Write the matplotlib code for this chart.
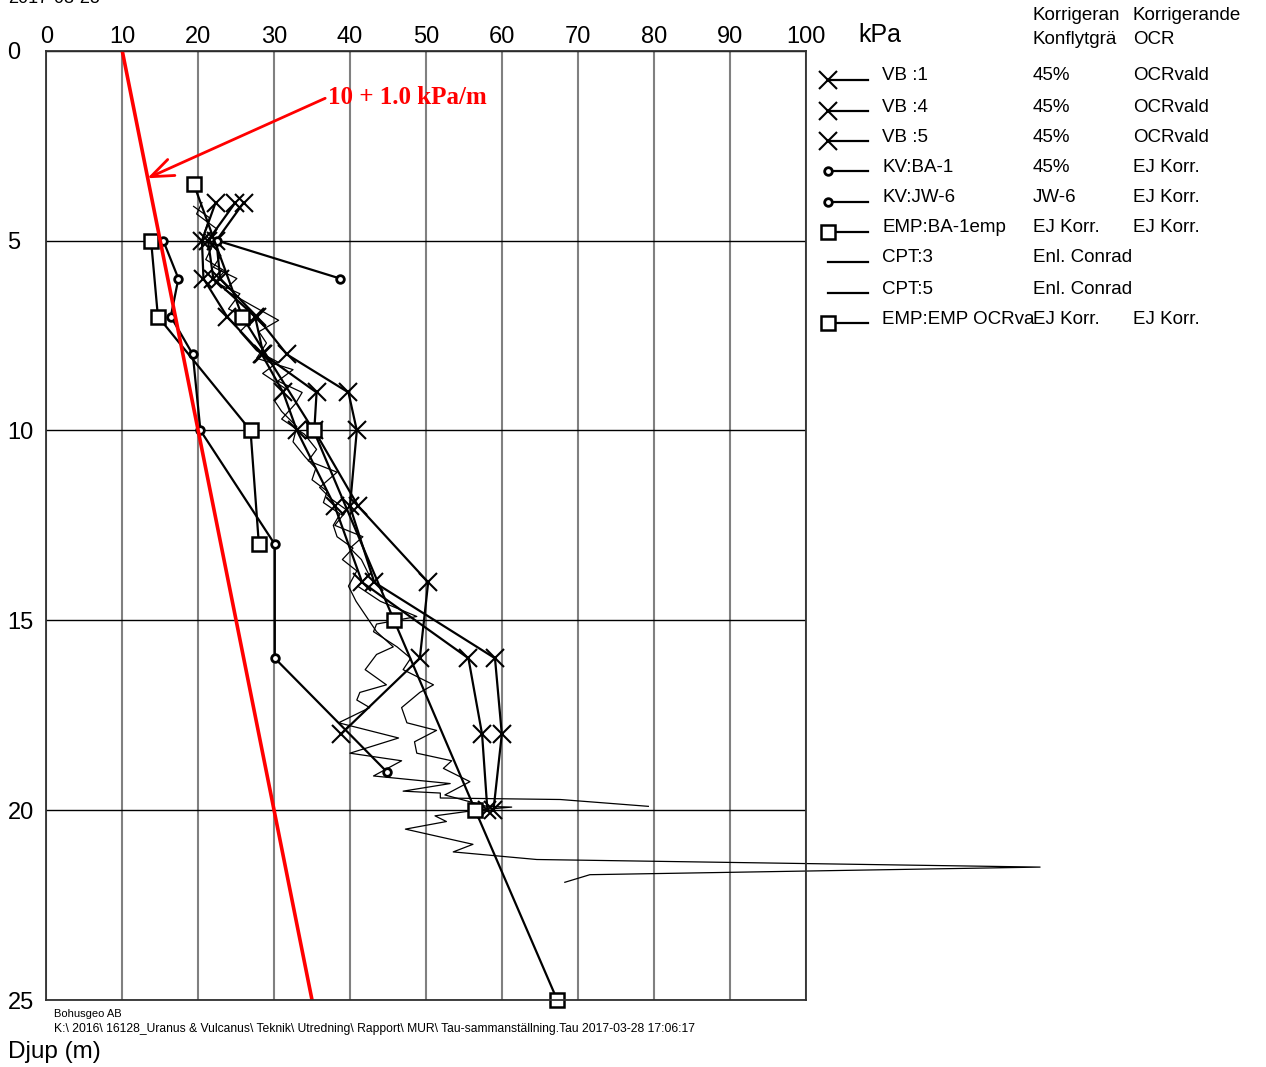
import matplotlib.pyplot as plt

plt.rcParams['font.family'] = ['Liberation Sans', 'DejaVu Sans']

# Vingborr (kPa vs djup m)
vb_depth = [4, 5, 6, 7, 8, 9, 10, 12, 14, 16, 18, 20]
vb1 = [26.0, 22.4, 22.9, 27.7, 31.7, 39.8, 40.9, 40.0, 43.2, 59.1, 60.0, 58.9]
vb4_depth = [4, 5, 6, 7, 8, 9, 10, 12, 14, 16, 18]
vb4 = [24.9, 21.3, 22.0, 27.5, 28.6, 35.6, 35.3, 41.1, 50.3, 49.2, 38.8]
vb5 = [22.3, 20.5, 20.7, 23.8, 28.4, 31.2, 33.0, 38.0, 41.6, 55.6, 57.4, 58.1]

# Kolvprov
kv_ba1_depth = [5, 6, 7, 8, 10, 13, 16, 19]
kv_ba1 = [15.4, 17.4, 16.4, 19.3, 20.3, 30.1, 30.1, 44.9]
kv_jw6_depth = [5, 6]
kv_jw6 = [22.5, 38.7]

# Empiriska
emp_ba1_depth = [5, 7, 10, 13]
emp_ba1 = [13.8, 14.7, 26.9, 28.0]
emp_ocr_depth = [3.5, 7, 10, 15, 20, 25]
emp_ocr = [19.4, 25.8, 35.2, 45.8, 56.5, 67.3]

# CPT
cpt3_depth = [4.1, 4.4, 4.8, 5.1, 5.5, 5.8, 6.1, 6.4, 6.8, 7.1, 7.4, 7.9, 8.2, 8.5, 8.9, 9.2, 9.5,
              9.9, 10.3, 10.7, 11.0, 11.3, 11.6, 11.9, 12.2, 12.5, 12.8, 13.1, 13.4, 13.7, 14.1,
              14.5, 15.3, 15.7, 15.9, 16.3, 16.7, 16.9, 17.1, 17.3, 17.7, 18.1, 18.5, 18.7, 19.1,
              19.3, 19.5, 19.55, 19.68, 19.72, 19.9]
cpt3 = [19.4, 21.5, 20.8, 22.0, 21.0, 23.5, 22.2, 25.5, 24.0, 27.0, 25.5, 27.7, 30.5, 28.5, 31.5,
        30.0, 31.0, 33.0, 32.5, 34.1, 35.5, 35.0, 37.0, 36.5, 38.7, 37.8, 38.3, 40.4, 39.0, 40.9,
        39.8, 40.8, 43.5, 45.7, 43.5, 42.0, 44.8, 41.3, 40.9, 42.6, 38.5, 46.4, 40.0, 46.8, 43.1,
        53.2, 47.0, 51.9, 51.9, 67.7, 79.3]
cpt5_depth = [4.0, 4.3, 4.7, 5.0, 5.4, 5.7, 6.0, 6.3, 6.7, 7.1, 7.4, 7.7, 8.1, 8.4, 8.7, 9.0, 9.3,
              9.7, 10.1, 10.5, 10.8, 11.1, 11.5, 11.8, 12.1, 12.5, 12.8, 13.1, 13.4, 13.8, 14.1,
              14.5, 14.9, 15.1, 15.3, 15.7, 16.0, 16.3, 16.7, 16.9, 17.3, 17.7, 17.9, 18.2, 18.5,
              18.7, 18.9, 19.25, 19.6, 19.9, 19.92, 20.0, 20.15, 20.3, 20.5, 20.9, 21.1, 21.3,
              21.5, 21.7, 21.9]
cpt5 = [20.5, 19.8, 22.5, 21.5, 23.0, 22.0, 25.1, 23.5, 27.0, 30.6, 28.0, 29.0, 27.7, 32.5, 30.5,
        33.7, 32.8, 31.0, 34.0, 35.6, 34.5, 38.3, 36.0, 37.5, 39.6, 38.0, 41.7, 40.0, 41.5, 42.5,
        41.0, 44.0, 48.8, 43.5, 43.1, 46.2, 48.0, 47.0, 51.0, 49.2, 46.8, 47.5, 51.4, 48.5, 48.8,
        53.4, 52.3, 55.8, 52.5, 58.0, 61.3, 56.7, 51.2, 52.7, 47.3, 56.2, 53.6, 64.6, 130.9, 71.6,
        68.3]

# trend line 10 + 1.0 kPa/m
trend_depth = [0, 25]
trend = [10 + 1.0 * d for d in trend_depth]

legend_names = ['VB :1', 'VB :4', 'VB :5', 'KV:BA-1', 'KV:JW-6', 'EMP:BA-1emp', 'CPT:3', 'CPT:5',
                'EMP:EMP OCRva']
legend_col2 = ['45%', '45%', '45%', '45%', 'JW-6', 'EJ Korr.', 'Enl. Conrad', 'Enl. Conrad', 'EJ Korr.']
legend_col3 = ['OCRvald', 'OCRvald', 'OCRvald', 'EJ Korr.', 'EJ Korr.', 'EJ Korr.', '', '', 'EJ Korr.']

W, H = 1266, 1067
fig = plt.figure(figsize=(W / 100, H / 100), dpi=100)
ax = fig.add_axes([46.3 / W, 1 - 1000 / H, (805.5 - 46.3) / W, (1000 - 50.7) / H])
ax.set_xlim(0, 100)
ax.set_ylim(25, 0)
ax.xaxis.tick_top()
ax.set_xticks(range(0, 101, 10))
ax.set_yticks(range(0, 26, 5))
ax.tick_params(axis='x', length=0, labelsize=17, pad=2)
ax.tick_params(axis='y', length=0, labelsize=17, pad=28)
for t in ax.get_yticklabels():
    t.set_horizontalalignment('left')
ax.xaxis.grid(True, color='#808080', lw=1.5)
ax.yaxis.grid(True, color='black', lw=1.0)
ax.set_axisbelow(True)
for s in ax.spines.values():
    s.set_color('#303030')
    s.set_linewidth(1.3)

lk = dict(color='black', lw=1.6)
xm = dict(marker='x', ms=13, mew=1.5, mec='black')
ax.plot(vb1, vb_depth, **lk, **xm)
ax.plot(vb4, vb4_depth, **lk, **xm)
ax.plot(vb5, vb_depth, **lk, **xm)
ax.plot(cpt3, cpt3_depth, color='black', lw=0.9, clip_on=False)
ax.plot(cpt5, cpt5_depth, color='black', lw=0.9, clip_on=False)
om = dict(marker='o', ms=5.5, mfc='white', mec='black', mew=2)
ax.plot(kv_ba1, kv_ba1_depth, **lk, **om)
ax.plot(kv_jw6, kv_jw6_depth, **lk, **om)
sm = dict(marker='s', ms=10, mfc='white', mec='black', mew=1.8)
ax.plot(emp_ba1, emp_ba1_depth, **lk, **sm)
ax.plot(emp_ocr, emp_ocr_depth, **lk, **sm, clip_on=False)

ax.plot(trend, trend_depth, color='red', lw=2.6)
ax.annotate('10 + 1.0 kPa/m', xy=(13.3, 3.36), xytext=(37.1, 1.22),
            color='red', fontsize=18, fontweight='bold', family='Liberation Serif',
            ha='left', va='center',
            arrowprops=dict(arrowstyle='->,head_length=0.9,head_width=0.35', color='red', lw=2,
                            shrinkA=0, shrinkB=0, relpos=(0, 0.5)))

# overlay in pixel coordinates for legend and texts
ov = fig.add_axes([0, 0, 1, 1], facecolor='none')
ov.set_xlim(0, W)
ov.set_ylim(H, 0)
ov.axis('off')

ov.text(858, 35, 'kPa', fontsize=18, va='center', ha='left')
ov.text(1033, 16, 'Korrigeran', fontsize=13.5, va='center')
ov.text(1033, 39, 'Konflytgrä', fontsize=13.5, va='center')
ov.text(1133, 16, 'Korrigerande', fontsize=13.5, va='center')
ov.text(1133, 39, 'OCR', fontsize=13.5, va='center')

rows_y = [76, 107, 137, 167, 198, 228, 258, 289, 319]
styles = ['x', 'x', 'x', 'o', 'o', 's', None, None, 's']
for y, name, c2, c3, st in zip(rows_y, legend_names, legend_col2, legend_col3, styles):
    ly = y + 4
    ov.plot([828, 868], [ly, ly], color='black', lw=1.6)
    if st == 'x':
        ov.plot([828], [ly], **xm)
    elif st == 'o':
        ov.plot([828], [ly], **om)
    elif st == 's':
        ov.plot([828], [ly], **sm)
    ov.text(882, y, name, fontsize=13.5, va='center')
    ov.text(1033, y, c2, fontsize=13.5, va='center')
    ov.text(1133, y, c3, fontsize=13.5, va='center')

fig.text(8 / W, 1 - 3 / H, '2017-03-28', fontsize=13, va='baseline', ha='left')
ov.text(54, 1014, 'Bohusgeo AB', fontsize=8, va='center')
ov.text(54, 1029, 'K:\\ 2016\\ 16128_Uranus & Vulcanus\\ Teknik\\ Utredning\\ Rapport\\ MUR\\ '
        'Tau-sammanställning.Tau 2017-03-28 17:06:17', fontsize=8.7, va='center')
ov.text(8, 1052, 'Djup (m)', fontsize=17.5, va='center')

fig.savefig('out.png', dpi=100)
